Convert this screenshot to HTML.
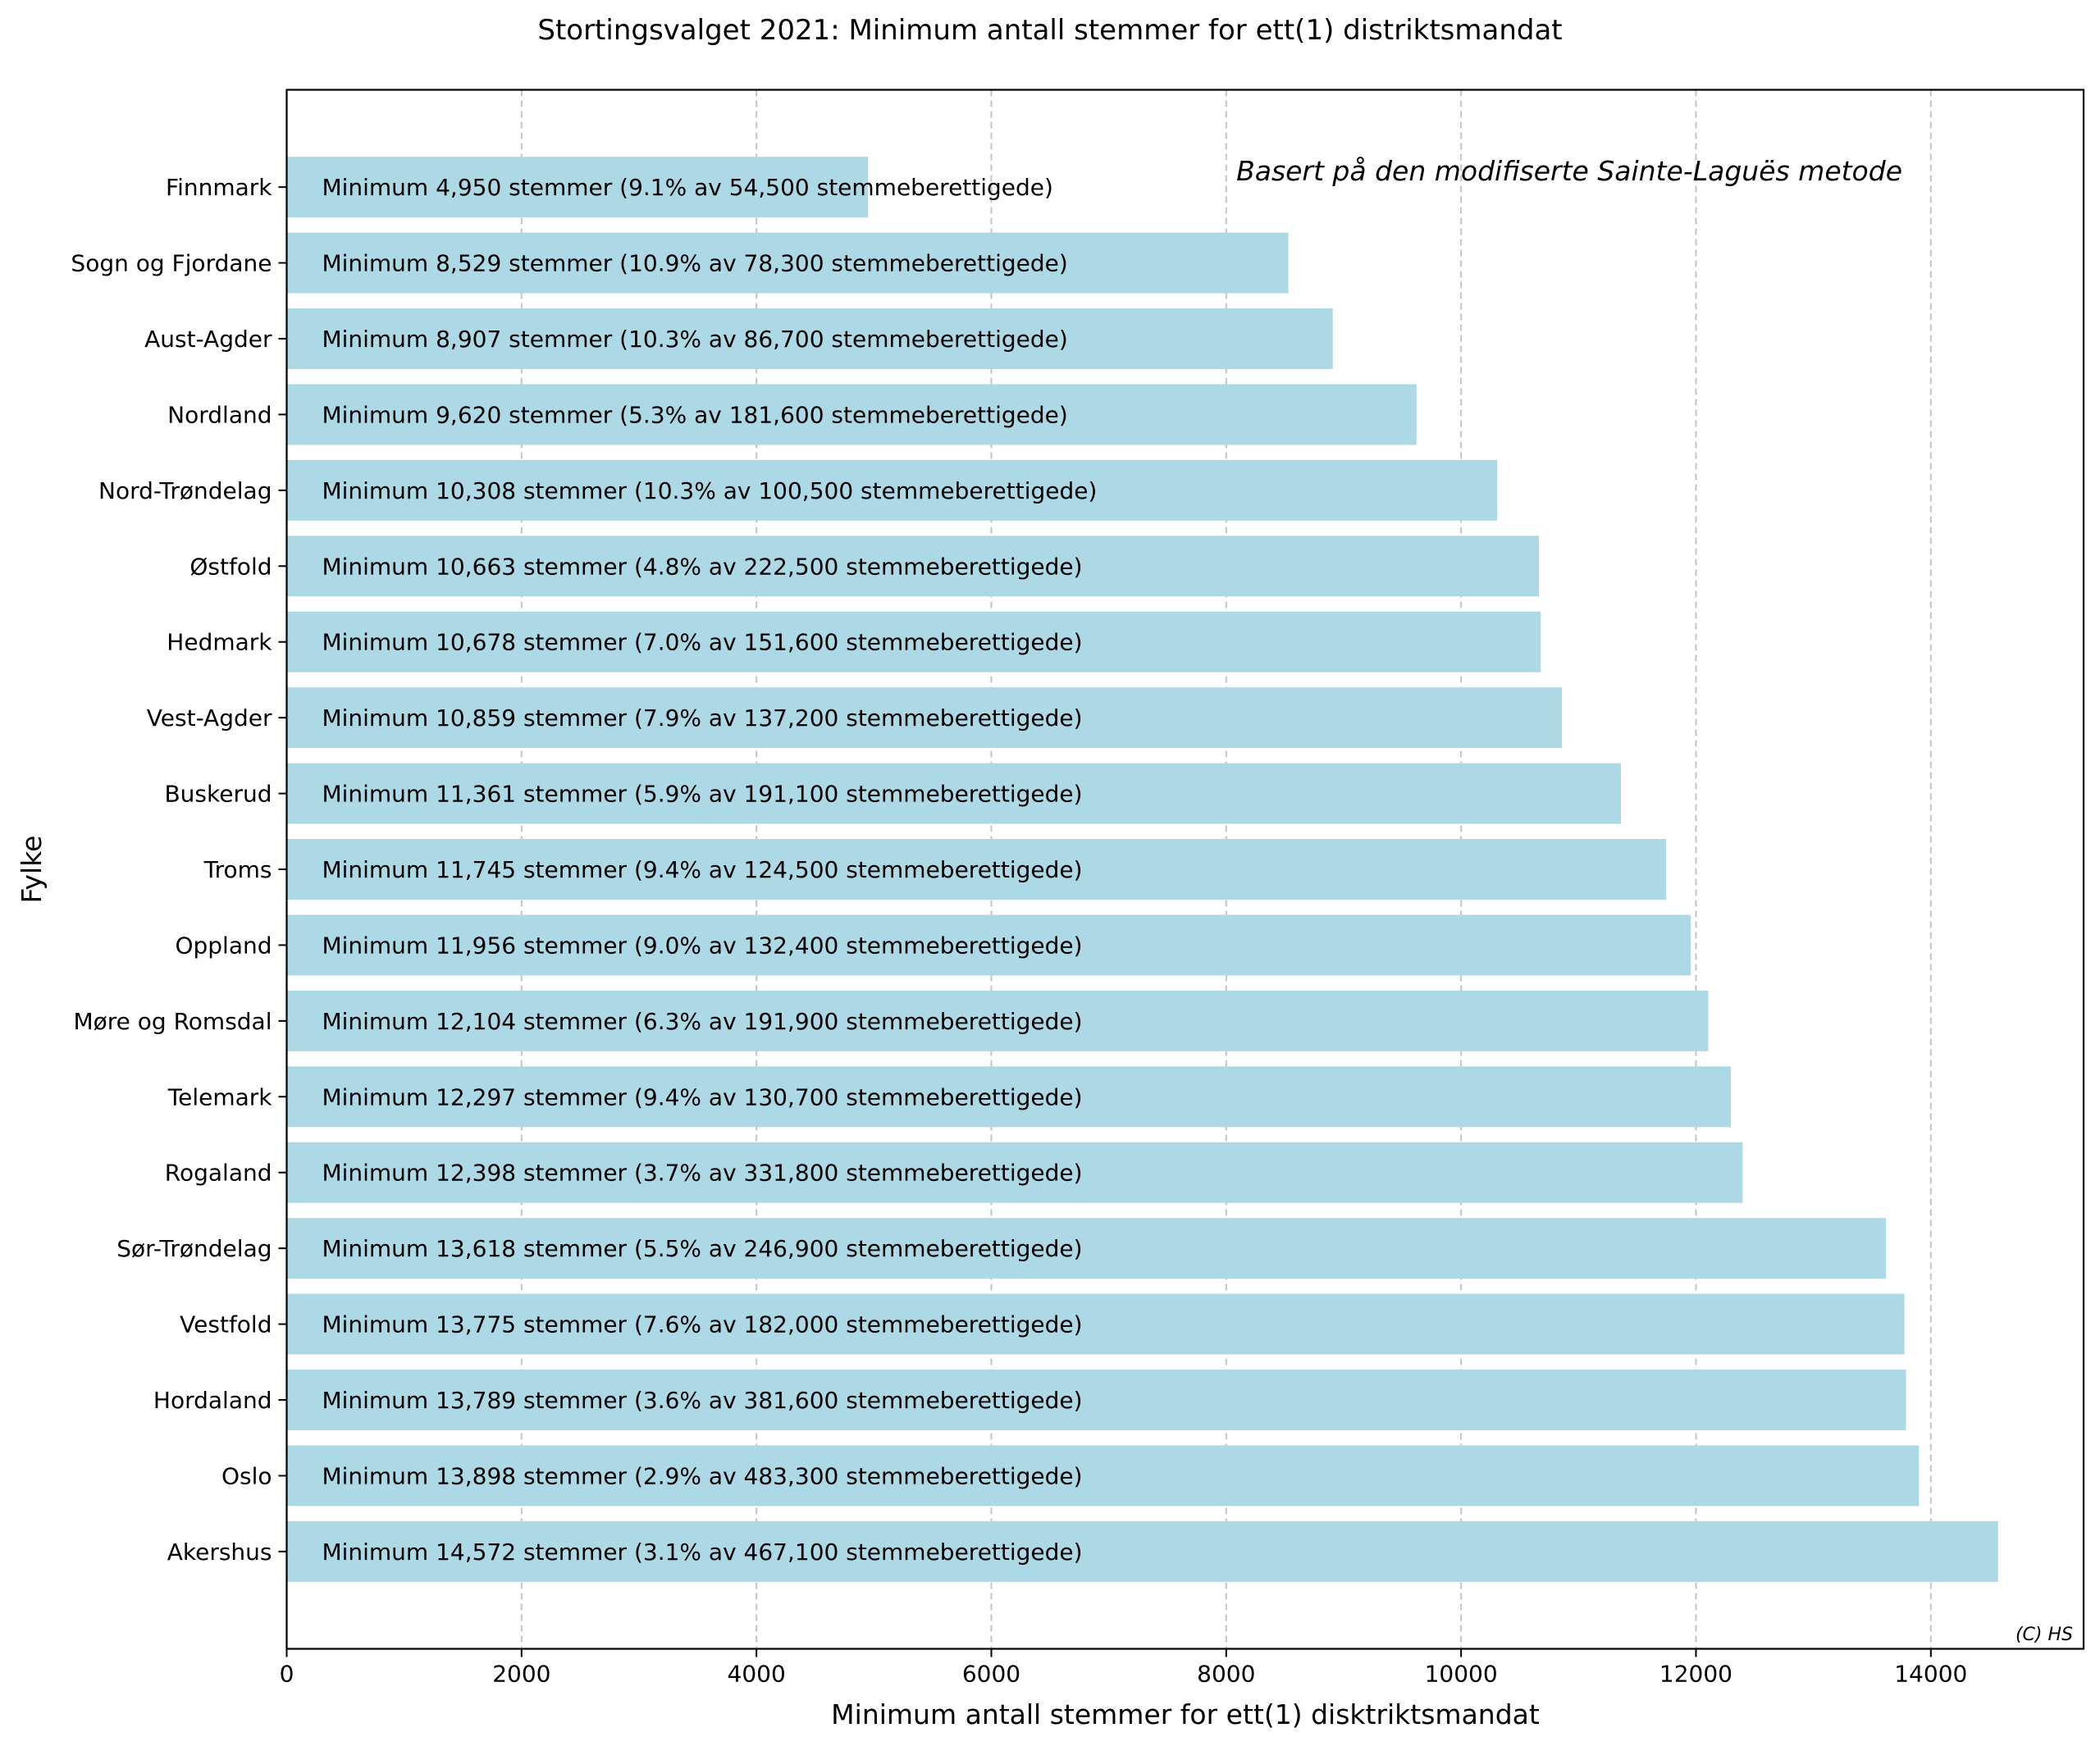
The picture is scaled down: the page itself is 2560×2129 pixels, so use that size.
<!DOCTYPE html>
<html><head><meta charset="utf-8"><style>
body{margin:0;background:#fff}
svg{display:block;font-family:"DejaVu Sans","Liberation Sans",sans-serif}
</style></head><body>
<svg id="chart" width="2560" height="2129" viewBox="0 0 2560 2129" xmlns="http://www.w3.org/2000/svg">
<text x="1280" y="48" font-size="34" text-anchor="middle">Stortingsvalget 2021: Minimum antall stemmer for ett(1) distriktsmandat</text>
<g id="grid"></g><g id="bars"></g><g id="labels"></g><g id="xticks"></g><g id="yticks"></g>
<rect x="349.5" y="109.5" width="2190.5" height="1901" fill="none" stroke="#000" stroke-width="2.2"/>
<text x="2319" y="220" font-size="33" font-style="italic" text-anchor="end">Basert på den modifiserte Sainte-Laguës metode</text>
<text x="2527" y="2000" font-size="22" font-style="italic" text-anchor="end">(C) HS</text>
<text x="1445" y="2102" font-size="33" text-anchor="middle">Minimum antall stemmer for ett(1) disktriktsmandat</text>
<text x="50" y="1060" font-size="33" text-anchor="middle" transform="rotate(-90 50 1060)">Fylke</text>
</svg>
<script>
const categories=["Finnmark","Sogn og Fjordane","Aust-Agder","Nordland","Nord-Trøndelag","Østfold","Hedmark","Vest-Agder","Buskerud","Troms","Oppland","Møre og Romsdal","Telemark","Rogaland","Sør-Trøndelag","Vestfold","Hordaland","Oslo","Akershus"];
const votes=[4950,8529,8907,9620,10308,10663,10678,10859,11361,11745,11956,12104,12297,12398,13618,13775,13789,13898,14572];
const pct=["9.1","10.9","10.3","5.3","10.3","4.8","7.0","7.9","5.9","9.4","9.0","6.3","9.4","3.7","5.5","7.6","3.6","2.9","3.1"];
const electorate=[54500,78300,86700,181600,100500,222500,151600,137200,191100,124500,132400,191900,130700,331800,246900,182000,381600,483300,467100];
const xTicks=[0,2000,4000,6000,8000,10000,12000,14000];
const NS="http://www.w3.org/2000/svg";
const L=349.5,R=2540,T=109.5,B=2010.5;
const xMax=Math.max(...votes)*1.05;
const x=v=>L+v/xMax*(R-L);
const n=categories.length;
const yMin=-0.4-0.047*(n-0.2), yMax=n-1+0.4+0.047*(n-0.2);
const y=i=>T+(i-yMin)/(yMax-yMin)*(B-T);
const bw=0.8*(B-T)/(yMax-yMin);
function mk(tag,attrs,parent){const e=document.createElementNS(NS,tag);for(const k in attrs)e.setAttribute(k,attrs[k]);document.getElementById(parent).appendChild(e);return e;}
const fmt=v=>v.toLocaleString("en-US");
xTicks.forEach(t=>{
  if(t>0){const g=mk("line",{x1:x(t),x2:x(t),y1:T,y2:B,stroke:"#c8c8c8","stroke-width":2.2,"stroke-dasharray":"8,5"},"grid");
  
  }
  const tk=mk("line",{x1:x(t),x2:x(t),y1:B,y2:B+10,stroke:"#000","stroke-width":2},"xticks");
  
  
  const tl=mk("text",{x:x(t),y:B+40,"font-size":28,"text-anchor":"middle"},"xticks");
  tl.textContent=t;
  
  
});
categories.forEach((c,i)=>{
  const b=mk("rect",{x:x(0),y:y(i)-bw/2,width:x(votes[i])-x(0),height:bw,fill:"#add8e6"},"bars");
  
  
  const t=mk("text",{x:x(300),y:y(i)+10,"font-size":28},"labels");
  t.textContent="Minimum "+fmt(votes[i])+" stemmer ("+pct[i]+"% av "+fmt(electorate[i])+" stemmeberettigede)";
  
  
  const tk=mk("line",{x1:L-10,x2:L,y1:y(i),y2:y(i),stroke:"#000","stroke-width":2},"yticks");
  
  
  const yl=mk("text",{x:L-18,y:y(i)+10,"font-size":28,"text-anchor":"end"},"yticks");
  yl.textContent=c;
  
  
});
</script>
</body></html>
